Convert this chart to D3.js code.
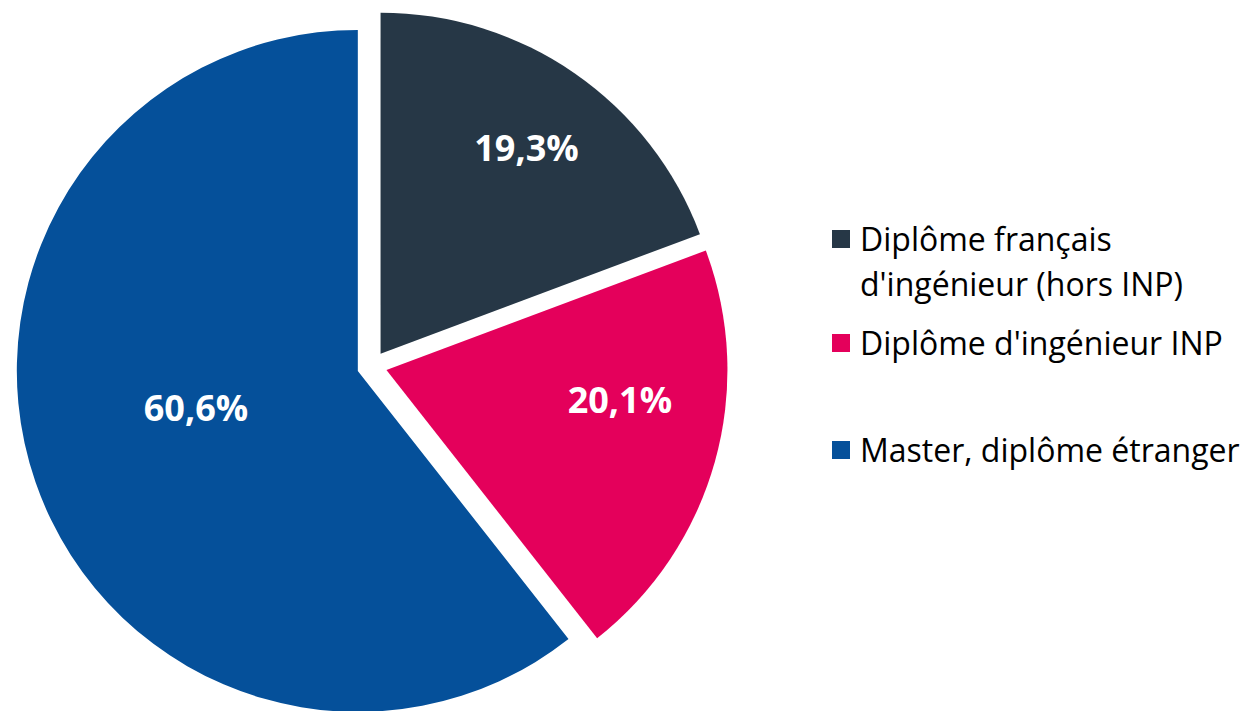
<!DOCTYPE html>
<html>
<head>
<meta charset="utf-8">
<script src="https://cdn.jsdelivr.net/npm/d3@7"></script>
<style>
  body { margin: 0; background: #fff; }
  svg { display: block; font-family: "Open Sans", Lato, sans-serif; }
</style>
</head>
<body>
<svg id="chart" width="1258" height="711"></svg>
<script>
// data
const categories = ["Diplôme français d'ingénieur (hors INP)", "Diplôme d'ingénieur INP", "Master, diplôme étranger"];
const legendLines = [["Diplôme français", "d'ingénieur (hors INP)"], ["Diplôme d'ingénieur INP"], ["Master, diplôme étranger"]];
const values = [19.3, 20.1, 60.6];
const colors = ["#263746", "#e4005b", "#05509a"];

const svg = d3.select("#chart");
const cx = 372, cy = 366, r = 341, explode = 15;

const pie = d3.pie().sort(null).value(d => d);
const arc = d3.arc().innerRadius(0).outerRadius(r);
const fmt = v => d3.format(".1f")(v).replace(".", ",") + "%";

// label placement tweaks (radius fraction, angle shift in degrees)
const labelPos = [[0.74, 0.6], [0.69, -8.4], [0.487, 6.2]];

const g = svg.append("g").attr("transform", `translate(${cx},${cy})`);

const slices = g.selectAll("g.slice")
  .data(pie(values))
  .join("g")
  .attr("class", "slice")
  .attr("transform", d => {
    const a = (d.startAngle + d.endAngle) / 2;
    return `translate(${explode * Math.sin(a)},${-explode * Math.cos(a)})`;
  });

slices.append("path")
  .attr("d", arc)
  .attr("fill", (d, i) => colors[i]);

slices.append("text")
  .attr("transform", (d, i) => {
    const a = (d.startAngle + d.endAngle) / 2 + labelPos[i][1] * Math.PI / 180;
    const rr = r * labelPos[i][0];
    return `translate(${rr * Math.sin(a)},${-rr * Math.cos(a)})`;
  })
  .attr("text-anchor", "middle")
  .attr("dy", "0.36em")
  .attr("fill", "#fff")
  .style("font-weight", "bold")
  .style("font-size", "36px")
  .text(d => fmt(d.data));

// legend
const legendY = [239, 343, 450];
const legend = svg.append("g").attr("transform", "translate(832,0)");
const items = legend.selectAll("g.item")
  .data(categories)
  .join("g")
  .attr("class", "item")
  .attr("transform", (d, i) => `translate(0,${legendY[i]})`);

items.append("rect")
  .attr("x", 0).attr("y", -9)
  .attr("width", 18).attr("height", 18)
  .attr("fill", (d, i) => colors[i]);

items.each(function(d, i) {
  const t = d3.select(this).append("text")
    .attr("x", 28)
    .attr("y", 0)
    .style("font-size", "32px")
    .attr("fill", "#000");
  legendLines[i].forEach((line, j) => {
    t.append("tspan")
      .attr("x", 28)
      .attr("y", j * 45)
      .attr("dy", "0.36em")
      .text(line);
  });
});
</script>
</body>
</html>
